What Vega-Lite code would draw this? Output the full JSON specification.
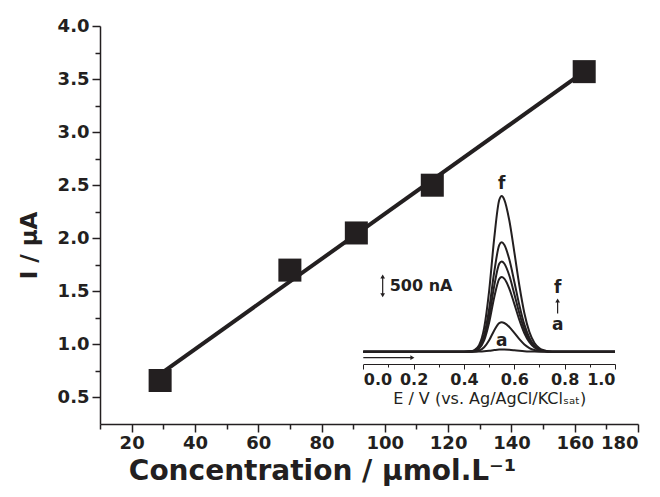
{
  "$schema": "https://vega.github.io/schema/vega-lite/v6.json",
  "width": 538,
  "height": 398,
  "autosize": "none",
  "padding": {"left": 100, "top": 26, "right": 22, "bottom": 73},
  "background": "white",
  "config": {
    "view": {"stroke": null},
    "font": "DejaVu Sans",
    "axis": {"domainColor": "#231f20", "tickColor": "#231f20", "labelColor": "#231f20", "titleColor": "#231f20", "grid": false, "labelFont": "DejaVu Sans", "titleFont": "DejaVu Sans", "labelOverlap": false}
  },
  "datasets": {
    "points": [
      {"c": 29, "i": 0.66},
      {"c": 70, "i": 1.70},
      {"c": 91, "i": 2.05},
      {"c": 115, "i": 2.50},
      {"c": 163, "i": 3.57}
    ],
    "fit": [
      {"c": 29, "i": 0.72},
      {"c": 163, "i": 3.57}
    ],
    "curves": [
      {"k":"f","E":0,"I":0},{"k":"f","E":0.4,"I":0},{"k":"f","E":0.42,"I":0.004},{"k":"f","E":0.44,"I":0.032},{"k":"f","E":0.46,"I":0.147},{"k":"f","E":0.48,"I":0.529},{"k":"f","E":0.5,"I":1.369},{"k":"f","E":0.52,"I":2.541},{"k":"f","E":0.54,"I":3.409},{"k":"f","E":0.55,"I":3.5},{"k":"f","E":0.56,"I":3.42},{"k":"f","E":0.58,"I":2.954},{"k":"f","E":0.6,"I":2.24},{"k":"f","E":0.62,"I":1.488},{"k":"f","E":0.64,"I":0.865},{"k":"f","E":0.66,"I":0.441},{"k":"f","E":0.68,"I":0.196},{"k":"f","E":0.7,"I":0.077},{"k":"f","E":0.72,"I":0.028},{"k":"f","E":0.75,"I":0},{"k":"f","E":1,"I":0},
      {"k":"e","E":0,"I":0},{"k":"e","E":0.4,"I":0},{"k":"e","E":0.42,"I":0.002},{"k":"e","E":0.44,"I":0.022},{"k":"e","E":0.46,"I":0.103},{"k":"e","E":0.48,"I":0.371},{"k":"e","E":0.5,"I":0.962},{"k":"e","E":0.52,"I":1.786},{"k":"e","E":0.54,"I":2.396},{"k":"e","E":0.55,"I":2.46},{"k":"e","E":0.56,"I":2.403},{"k":"e","E":0.58,"I":2.076},{"k":"e","E":0.6,"I":1.574},{"k":"e","E":0.62,"I":1.046},{"k":"e","E":0.64,"I":0.608},{"k":"e","E":0.66,"I":0.31},{"k":"e","E":0.68,"I":0.138},{"k":"e","E":0.7,"I":0.054},{"k":"e","E":0.72,"I":0.02},{"k":"e","E":0.75,"I":0},{"k":"e","E":1,"I":0},
      {"k":"d","E":0,"I":0},{"k":"d","E":0.4,"I":0},{"k":"d","E":0.42,"I":0.002},{"k":"d","E":0.44,"I":0.018},{"k":"d","E":0.46,"I":0.085},{"k":"d","E":0.48,"I":0.307},{"k":"d","E":0.5,"I":0.794},{"k":"d","E":0.52,"I":1.474},{"k":"d","E":0.54,"I":1.977},{"k":"d","E":0.55,"I":2.03},{"k":"d","E":0.56,"I":1.983},{"k":"d","E":0.58,"I":1.713},{"k":"d","E":0.6,"I":1.299},{"k":"d","E":0.62,"I":0.863},{"k":"d","E":0.64,"I":0.501},{"k":"d","E":0.66,"I":0.256},{"k":"d","E":0.68,"I":0.114},{"k":"d","E":0.7,"I":0.045},{"k":"d","E":0.72,"I":0.016},{"k":"d","E":0.75,"I":0},{"k":"d","E":1,"I":0},
      {"k":"c","E":0,"I":0},{"k":"c","E":0.4,"I":0},{"k":"c","E":0.42,"I":0.002},{"k":"c","E":0.44,"I":0.015},{"k":"c","E":0.46,"I":0.071},{"k":"c","E":0.48,"I":0.254},{"k":"c","E":0.5,"I":0.657},{"k":"c","E":0.52,"I":1.22},{"k":"c","E":0.54,"I":1.636},{"k":"c","E":0.55,"I":1.68},{"k":"c","E":0.56,"I":1.641},{"k":"c","E":0.58,"I":1.418},{"k":"c","E":0.6,"I":1.075},{"k":"c","E":0.62,"I":0.714},{"k":"c","E":0.64,"I":0.415},{"k":"c","E":0.66,"I":0.212},{"k":"c","E":0.68,"I":0.094},{"k":"c","E":0.7,"I":0.037},{"k":"c","E":0.72,"I":0.013},{"k":"c","E":0.75,"I":0},{"k":"c","E":1,"I":0},
      {"k":"b","E":0,"I":0},{"k":"b","E":0.4,"I":0},{"k":"b","E":0.42,"I":0.001},{"k":"b","E":0.44,"I":0.006},{"k":"b","E":0.46,"I":0.028},{"k":"b","E":0.48,"I":0.1},{"k":"b","E":0.5,"I":0.258},{"k":"b","E":0.52,"I":0.479},{"k":"b","E":0.54,"I":0.643},{"k":"b","E":0.55,"I":0.66},{"k":"b","E":0.56,"I":0.645},{"k":"b","E":0.58,"I":0.557},{"k":"b","E":0.6,"I":0.422},{"k":"b","E":0.62,"I":0.281},{"k":"b","E":0.64,"I":0.163},{"k":"b","E":0.66,"I":0.083},{"k":"b","E":0.68,"I":0.037},{"k":"b","E":0.7,"I":0.015},{"k":"b","E":0.72,"I":0.005},{"k":"b","E":0.75,"I":0},{"k":"b","E":1,"I":0},
      {"k":"a","E":0,"I":0},{"k":"a","E":0.4,"I":0},{"k":"a","E":0.42,"I":0},{"k":"a","E":0.44,"I":0},{"k":"a","E":0.46,"I":0.002},{"k":"a","E":0.48,"I":0.008},{"k":"a","E":0.5,"I":0.02},{"k":"a","E":0.52,"I":0.036},{"k":"a","E":0.54,"I":0.049},{"k":"a","E":0.55,"I":0.05},{"k":"a","E":0.56,"I":0.049},{"k":"a","E":0.58,"I":0.042},{"k":"a","E":0.6,"I":0.032},{"k":"a","E":0.62,"I":0.021},{"k":"a","E":0.64,"I":0.012},{"k":"a","E":0.66,"I":0.006},{"k":"a","E":0.68,"I":0.003},{"k":"a","E":0.7,"I":0.001},{"k":"a","E":0.72,"I":0},{"k":"a","E":0.75,"I":0},{"k":"a","E":1,"I":0}
    ],
    "labels": [
      {"E": 0.55, "I": 3.77, "t": "f"},
      {"E": 0.55, "I": 0.24, "t": "a"},
      {"E": 0.772, "I": 1.43, "t": "f"},
      {"E": 0.772, "I": 0.61, "t": "a"}
    ],
    "scaletext": [{"E": 0.105, "I": 1.48, "t": "500 nA"}],
    "rules": [
      {"E": 0.077, "E2": 0.077, "I": 1.27, "I2": 1.69},
      {"E": 0.772, "E2": 0.772, "I": 0.86, "I2": 1.14},
      {"E": 0.0, "E2": 0.19, "I": -0.135, "I2": -0.135}
    ],
    "heads": [
      {"E": 0.077, "I": 1.69, "s": "triangle-up"},
      {"E": 0.077, "I": 1.27, "s": "triangle-down"},
      {"E": 0.772, "I": 1.15, "s": "triangle-up"},
      {"E": 0.195, "I": -0.135, "s": "triangle-right"}
    ]
  },
  "layer": [
    {
      "layer": [
        {
          "data": {"name": "fit"},
          "mark": {"type": "line", "color": "#231f20", "strokeWidth": 4},
          "encoding": {
            "x": {"field": "c", "type": "quantitative", "scale": {"domain": [10, 180], "nice": false, "zero": false},
              "axis": {"orient": "bottom", "values": [20,40,60,80,100,120,140,160,180],
                "tickSize": 8, "domainWidth": 1.5, "tickWidth": 1.5, "labelFontSize": 18, "labelFontWeight": "bold", "labelPadding": 2,
                "title": "Concentration / μmol.L⁻¹", "titleFontSize": 28, "titleFontWeight": "bold", "titlePadding": 5, "titleX": 222}},
            "y": {"field": "i", "type": "quantitative", "scale": {"domain": [0.25, 4.0], "nice": false, "zero": false},
              "axis": {"orient": "left", "values": [0.5,1,1.5,2,2.5,3,3.5,4], "format": ".1f",
                "tickSize": 8, "domainWidth": 1.5, "tickWidth": 1.5, "labelFontSize": 18, "labelFontWeight": "bold", "labelPadding": 3,
                "title": "I / μA", "titleFontSize": 23, "titleFontWeight": "bold", "titlePadding": 16, "titleY": 219}}
          }
        },
        {
          "data": {"name": "points"},
          "mark": {"type": "point", "shape": "square", "filled": true, "color": "#231f20", "opacity": 1, "size": 530},
          "encoding": {
            "x": {"field": "c", "type": "quantitative",
              "axis": {"orient": "bottom", "values": [10,30,50,70,90,110,130,150,170], "tickSize": 5, "tickWidth": 1.5, "domain": false, "labels": false, "title": null}},
            "y": {"field": "i", "type": "quantitative",
              "axis": {"orient": "left", "values": [0.75,1.25,1.75,2.25,2.75,3.25,3.75], "tickSize": 5, "tickWidth": 1.5, "domain": false, "labels": false, "title": null}}
          }
        }
      ],
      "resolve": {"axis": {"x": "independent", "y": "independent"}}
    },
    {
      "layer": [
        {
          "data": {"name": "curves"},
          "mark": {"type": "line", "color": "#231f20", "strokeWidth": 2, "interpolate": "monotone"},
          "encoding": {
            "x": {"field": "E", "type": "quantitative", "scale": {"domain": [0, 1], "range": [263.3, 515], "nice": false, "zero": false},
              "axis": {"orient": "bottom", "offset": -60, "values": [0,0.2,0.4,0.6,0.8,1.0], "format": ".1f",
                "tickSize": 5, "domainWidth": 1, "tickWidth": 1, "labelFontSize": 16, "labelFontWeight": "bold", "labelPadding": 2,
                "title": "E / V (vs. Ag/AgCl/KClₛₐₜ)", "titleFontSize": 16, "titleFontWeight": "normal", "titlePadding": 3}},
            "y": {"field": "I", "type": "quantitative", "scale": {"domain": [0, 3.5], "range": [325.7, 170], "nice": false, "zero": false}, "axis": null},
            "detail": {"field": "k"}
          }
        },
        {
          "data": {"name": "rules"},
          "mark": {"type": "rule", "color": "#231f20", "strokeWidth": 1.2},
          "encoding": {
            "x": {"field": "E", "type": "quantitative", "axis": null},
            "x2": {"field": "E2"},
            "y": {"field": "I", "type": "quantitative", "axis": null},
            "y2": {"field": "I2"}
          }
        },
        {
          "data": {"name": "heads"},
          "mark": {"type": "point", "filled": true, "color": "#231f20", "opacity": 1, "size": 22},
          "encoding": {
            "x": {"field": "E", "type": "quantitative",
              "axis": {"orient": "bottom", "offset": -60, "values": [0.1,0.3,0.5,0.7,0.9], "tickSize": 3, "tickWidth": 1, "domain": false, "labels": false, "title": null}},
            "y": {"field": "I", "type": "quantitative", "axis": null},
            "shape": {"field": "s", "type": "nominal", "scale": null}
          }
        },
        {
          "data": {"name": "labels"},
          "mark": {"type": "text", "color": "#231f20", "fontSize": 17, "fontWeight": "bold", "baseline": "middle", "align": "center"},
          "encoding": {
            "x": {"field": "E", "type": "quantitative", "axis": null},
            "y": {"field": "I", "type": "quantitative", "axis": null},
            "text": {"field": "t"}
          }
        },
        {
          "data": {"name": "scaletext"},
          "mark": {"type": "text", "color": "#231f20", "fontSize": 16, "fontWeight": "bold", "baseline": "middle", "align": "left"},
          "encoding": {
            "x": {"field": "E", "type": "quantitative", "axis": null},
            "y": {"field": "I", "type": "quantitative", "axis": null},
            "text": {"field": "t"}
          }
        }
      ],
      "resolve": {"axis": {"x": "independent"}}
    }
  ],
  "resolve": {"scale": {"x": "independent", "y": "independent"}, "axis": {"x": "independent", "y": "independent"}}
}
